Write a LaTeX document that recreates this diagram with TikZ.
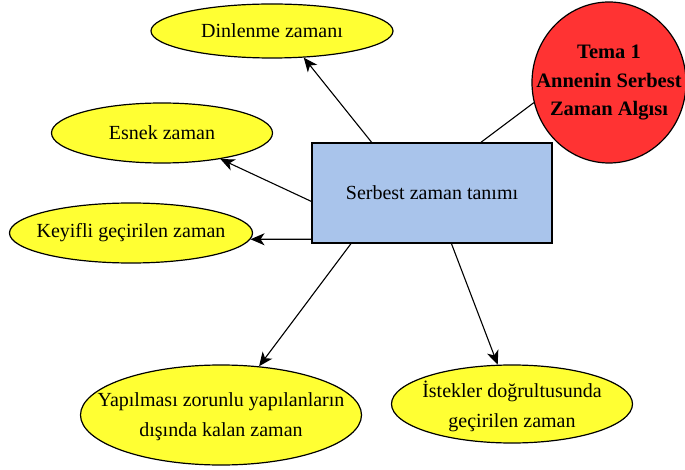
\documentclass[tikz,border=0pt]{standalone}
\usepackage{fontspec}
\setmainfont{Liberation Serif}
\usetikzlibrary{shapes.geometric,arrows.meta}
\definecolor{ylw}{HTML}{FFFF33}
\definecolor{redc}{HTML}{FF3333}
\definecolor{bluec}{HTML}{A9C4EB}
\tikzset{
  txt/.style={align=center, inner sep=0pt, font=\fontsize{20}{30}\selectfont},
  oval/.style={ellipse, draw=black, line width=1.2pt, fill=ylw, inner sep=0pt},
  centerbox/.style={rectangle, draw=black, line width=1.2pt, fill=bluec, inner sep=0pt,
    minimum width=240pt, minimum height=100pt, font=\fontsize{20}{30}\selectfont},
  themeoval/.style={ellipse, draw=black, line width=1.2pt, fill=redc, inner sep=0pt},
  themetxt/.style={align=center, inner sep=0pt, font=\fontsize{20.5}{28.5}\selectfont\bfseries},
  conn/.style={draw=black, line width=1.1pt, -{Stealth[length=14pt,width=12pt,inset=4pt]}},
  plainconn/.style={draw=black, line width=1.1pt}
}
\begin{document}
\begin{tikzpicture}[x=1pt,y=-1pt]
\useasboundingbox (0,0) rectangle (685,470);
\node[oval, minimum width=242pt, minimum height=54pt] (din) at (272,31) {};
\node[txt] (dint) at (din.center) {Dinlenme zamanı};
\node[oval, minimum width=221pt, minimum height=60pt] (esnek) at (162,133) {};
\node[txt] (esnekt) at (esnek.center) {Esnek zaman};
\node[oval, minimum width=243pt, minimum height=60pt] (keyif) at (131,233) {};
\node[txt] (keyift) at (keyif.center) {Keyifli geçirilen zaman};
\node[themeoval, minimum width=154pt, minimum height=161pt] (tema) at (609,82.5) {};
\node[themetxt] (temat) at (tema.center) {Tema 1\\Annenin Serbest\\Zaman Algısı};
\node[centerbox] (box) at (432,193) {Serbest zaman tanımı};
\node[oval, minimum width=281pt, minimum height=100pt] (yap) at (221,415) {};
\node[txt] (yapt) at ([yshift=-2pt]yap.center) {Yapılması zorunlu yapılanların\\dışında kalan zaman};
\node[oval, minimum width=241pt, minimum height=78pt] (ist) at (512,404) {};
\node[txt] (istt) at ([yshift=-2pt]ist.center) {İstekler doğrultusunda\\geçirilen zaman};
\draw[conn] (box.140.7) -- (din.-40);
\draw[conn] (box.184.2) -- (esnek.-24);
\draw[conn] (box.201.8) -- (keyif.-3.4);
\draw[conn] (box.212) -- (yap.52);
\draw[conn] (box.291.8) -- (ist.110);
\draw[plainconn] (box.46.2) -- (tema.195);
\end{tikzpicture}
\end{document}
